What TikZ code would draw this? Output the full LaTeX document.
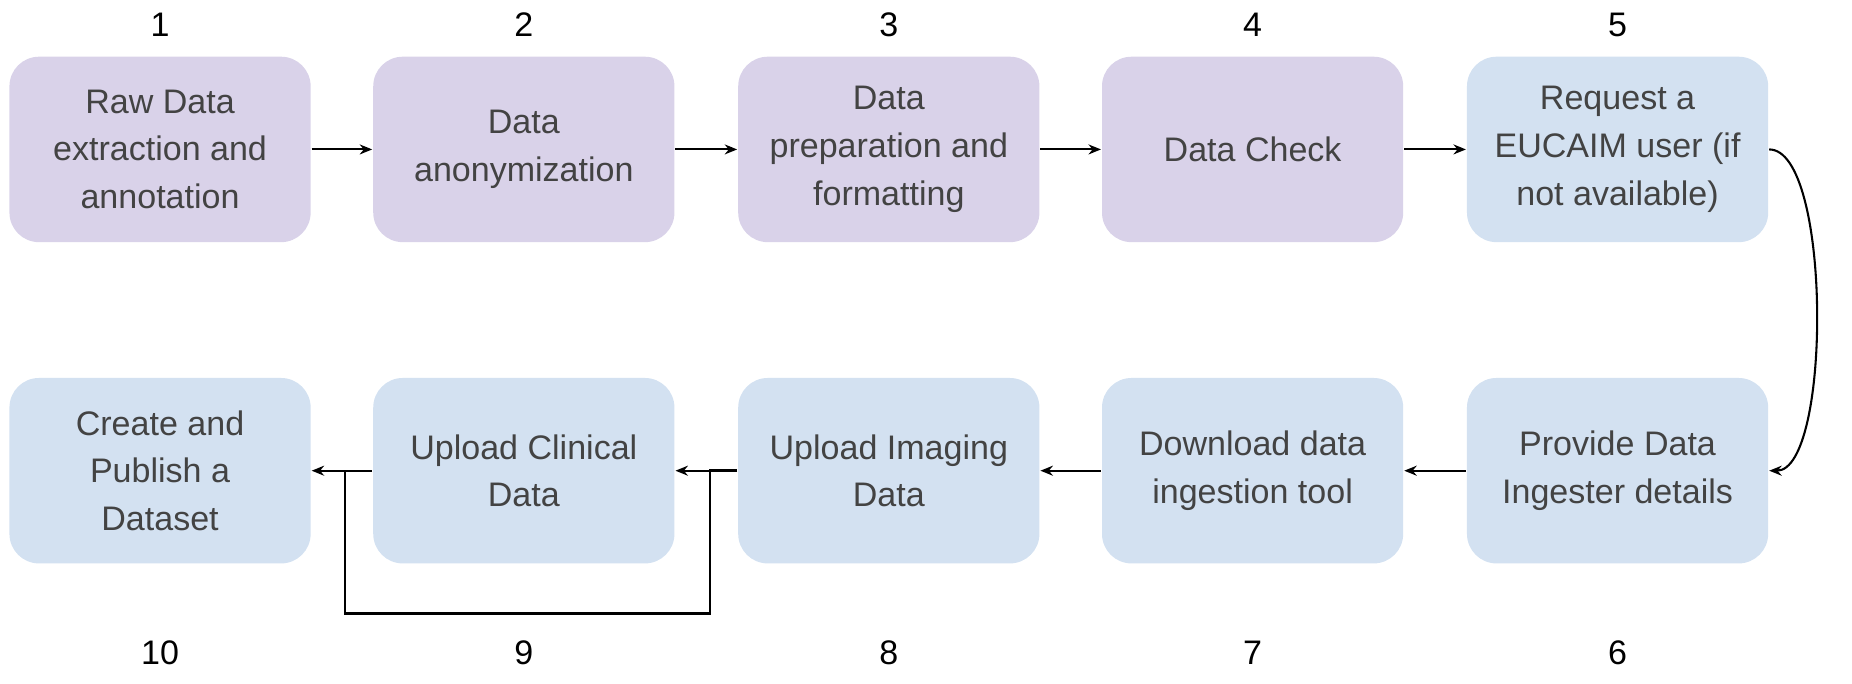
\documentclass[tikz,border=0pt]{standalone}
\usepackage{fontspec}
\setmainfont{Liberation Sans}
\usepackage{tikz}
\usetikzlibrary{arrows.meta,positioning,calc}

\definecolor{stepviolet}{HTML}{D9D2E9}
\definecolor{stepblue}{HTML}{D3E1F1}
\definecolor{steptext}{HTML}{434343}

\begin{document}
\begin{tikzpicture}[->, >={Stealth[length=3pt,width=2.4pt]}, line width=0.5pt,
  stepbox/.style={rectangle, rounded corners=0.25cm, minimum width=2.55cm, minimum height=1.57cm,
    align=center, font=\fontsize{8.2}{11.5}\selectfont, text=steptext, inner sep=0pt},
  violetbox/.style={stepbox, fill=stepviolet},
  bluebox/.style={stepbox, fill=stepblue},
  num/.style={font=\fontsize{8.2}{10}\selectfont, text=black}]
\path[use as bounding box] (0,0) rectangle (15.68,-5.79);
\node[violetbox] (S1) at (1.355,-1.265) {Raw Data\\extraction and\\annotation};
\node[violetbox] (S2) at (4.435,-1.265) {Data\\anonymization};
\node[violetbox] (S3) at (7.525,-1.265) {Data\\preparation and\\formatting};
\node[violetbox] (S4) at (10.605,-1.265) {Data Check};
\node[bluebox] (S5) at (13.695,-1.265) {Request a\\EUCAIM user (if\\not available)};
\node[bluebox] (S6) at (13.695,-3.985) {Provide Data\\Ingester details};
\node[bluebox] (S7) at (10.605,-3.985) {Download data\\ingestion tool};
\node[bluebox] (S8) at (7.525,-3.985) {Upload Imaging\\Data};
\node[bluebox] (S9) at (4.435,-3.985) {Upload Clinical\\Data};
\node[bluebox] (S10) at (1.355,-3.985) {Create and\\Publish a\\Dataset};
\node[num] (L1) at (1.355,-0.21) {1};
\node[num] (L2) at (4.435,-0.21) {2};
\node[num] (L3) at (7.525,-0.21) {3};
\node[num] (L4) at (10.605,-0.21) {4};
\node[num] (L5) at (13.695,-0.21) {5};
\node[num] (L6) at (13.695,-5.53) {6};
\node[num] (L7) at (10.605,-5.53) {7};
\node[num] (L8) at (7.525,-5.53) {8};
\node[num] (L9) at (4.435,-5.53) {9};
\node[num] (L10) at (1.355,-5.53) {10};
\path (S1) edge (S2);
\path (S2) edge (S3);
\path (S3) edge (S4);
\path (S4) edge (S5);
\path (S5) edge[out=0, in=0, looseness=0.5] (S6);
\path (S6) edge (S7);
\path (S7) edge (S8);
\path (S8) edge (S9);
\path (S9) edge (S10);
\coordinate (skipa) at ($(S8.west)+(-0.23,-1.21)$);
\coordinate (skipb) at ($(S10.east)+(0.28,-1.21)$);
\draw[-, line width=0.6pt] (S8.west) -- ++(-0.23,0) -- (skipa) -- (skipb) -- ($(S10.east)+(0.28,0)$);
\end{tikzpicture}
\end{document}
